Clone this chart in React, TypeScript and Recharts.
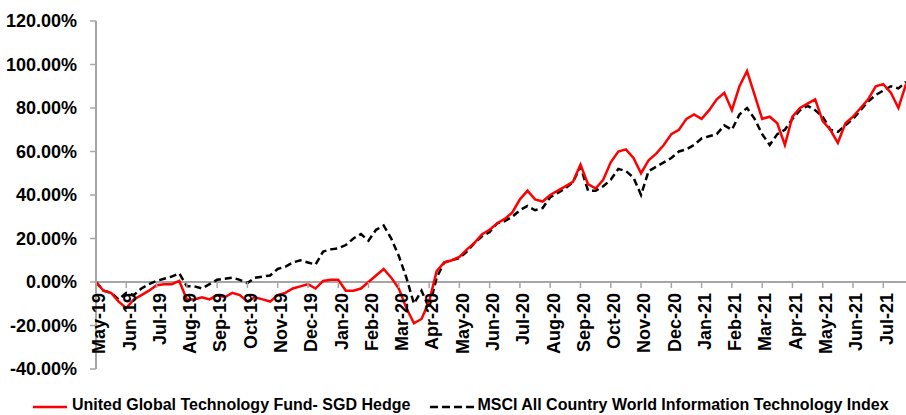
import React from 'react';
import { LineChart, Line, XAxis, YAxis, ReferenceLine, Legend } from 'recharts';

// month labels on the x axis (one tick per month start)
const MONTHS = [
  'May-19', 'Jun-19', 'Jul-19', 'Aug-19', 'Sep-19', 'Oct-19', 'Nov-19', 'Dec-19',
  'Jan-20', 'Feb-20', 'Mar-20', 'Apr-20', 'May-20', 'Jun-20', 'Jul-20', 'Aug-20',
  'Sep-20', 'Oct-20', 'Nov-20', 'Dec-20', 'Jan-21', 'Feb-21', 'Mar-21', 'Apr-21',
  'May-21', 'Jun-21', 'Jul-21',
];

const Y_TICKS = [-40, -20, 0, 20, 40, 60, 80, 100, 120];

// weekly cumulative return, % (four readings per month)
const FUND = [
  0, -4, -5, -9, -12, -8, -6, -4, -1.5, -1,
  -1, 0.5, -8, -8, -7, -8, -6, -7, -5, -6,
  -9, -7, -8, -9, -6, -5, -3, -2, -1, -3,
  0.5, 1, 1, -4, -4, -3, 0, 3, 6, 2,
  -3, -12, -19, -17, -9, 5, 9, 10, 11.5, 15,
  18, 22, 24, 27, 29, 32, 38, 42, 38, 37,
  40, 42, 44, 46, 54, 45, 43, 47, 55, 60,
  61, 57, 50, 56, 59, 63, 68, 70, 75, 77,
  75, 79, 84, 87, 79, 90, 97, 86, 75, 76,
  73, 63, 76, 80, 82, 84, 74, 70, 64, 73,
  76, 80, 84, 90, 91, 87, 80, 91,
];

const INDEX = [
  0, -4, -5, -8, -5, -6, -3, -1, 0.5, 1.5,
  2.5, 4, -2, -2, -3, -1, 1, 1.5, 2, 1,
  -0.5, 2, 2.5, 3, 6, 7, 9, 10, 9, 8,
  14, 15, 15.5, 17, 20, 22, 19, 24, 26, 20,
  12, 2, -10, -4, -12, 2, 9, 10, 11, 14,
  18, 21, 23, 27, 28, 30, 33, 35, 33, 34,
  39, 41, 43, 46, 53, 42, 42, 44, 47, 52,
  51, 48, 40, 51, 53, 55, 57, 60, 61, 63,
  66, 67, 68, 72, 70, 77, 80, 75, 68, 63,
  68, 70, 75, 79, 81, 79, 76, 70, 69, 72,
  75, 79, 83, 86, 88, 90, 89, 92,
];

const FUND_NAME = 'United Global Technology Fund- SGD Hedge';
const INDEX_NAME = 'MSCI All Country World Information Technology Index';

const data = FUND.map((v, i) => ({ t: i / 4, fund: v, index: INDEX[i] }));

const W = 906;
const H = 415;
const TOP = 21;
const Y_MIN = -40;
const Y_MAX = 120;
const X_AXIS_H = 22;
const LEGEND_H = 24;
const PLOT_H = H - TOP - X_AXIS_H - LEGEND_H;
const ZERO_Y = TOP + ((Y_MAX - 0) / (Y_MAX - Y_MIN)) * PLOT_H;

const AXIS = '#a6a6a6';
const FONT = '"Liberation Sans", Arial, sans-serif';

// month labels hang from the zero line, not from the plot bottom
const MonthTick = ({ x, payload }: any) => (
  <g>
    <line x1={x} x2={x} y1={ZERO_Y} y2={ZERO_Y + 6} stroke={AXIS} strokeWidth={1.5} />
    <text
      transform={`translate(${x + 3}, ${ZERO_Y + 11}) rotate(-90)`}
      textAnchor="end"
      dy="0.35em"
      fontSize={18}
      fontWeight="bold"
      fontFamily={FONT}
      fill="#000"
    >
      {MONTHS[payload.value]}
    </text>
  </g>
);

const LegendBox = () => (
  <div
    style={{
      display: 'flex',
      alignItems: 'center',
      height: LEGEND_H - 4,
      paddingTop: 4,
      paddingLeft: 33,
      fontFamily: FONT,
      fontWeight: 'bold',
      fontSize: 16,
      color: '#000',
      whiteSpace: 'nowrap',
    }}
  >
    <svg width={34} height={10} style={{ marginRight: 5 }}>
      <line x1={0} x2={34} y1={7} y2={7} stroke="#ff0000" strokeWidth={2.5} />
    </svg>
    <span>{FUND_NAME}</span>
    <svg width={45} height={10} style={{ marginLeft: 20, marginRight: 2 }}>
      <line x1={0} x2={45} y1={7} y2={7} stroke="#000" strokeWidth={2.5} strokeDasharray="8 4" />
    </svg>
    <span>{INDEX_NAME}</span>
  </div>
);

export default function App() {
  return (
    <div style={{ position: 'absolute', left: 0, top: 0, background: '#fff' }}>
      <LineChart width={W} height={H} data={data} margin={{ top: TOP, right: 0, bottom: 0, left: 0 }}>
        <XAxis
          dataKey="t"
          type="number"
          domain={[0, 26.75]}
          ticks={MONTHS.map((_, i) => i)}
          interval={0}
          height={X_AXIS_H}
          axisLine={false}
          tickLine={false}
          tick={<MonthTick />}
          allowDataOverflow
        />
        <YAxis
          width={96}
          domain={[Y_MIN, Y_MAX]}
          ticks={Y_TICKS}
          interval={0}
          tickFormatter={(v: number) => `${v.toFixed(2)}%`}
          axisLine={{ stroke: AXIS, strokeWidth: 2 }}
          tickLine={{ stroke: AXIS, strokeWidth: 1.5 }}
          tickSize={6}
          tickMargin={13}
          tick={{ fontSize: 18, fontWeight: 'bold', fontFamily: FONT, fill: '#000' }}
        />
        <ReferenceLine y={0} stroke={AXIS} strokeWidth={2} />
        <Line
          dataKey="index"
          name={INDEX_NAME}
          stroke="#000"
          strokeWidth={2.5}
          strokeDasharray="7 4"
          dot={false}
          type="linear"
          isAnimationActive={false}
        />
        <Line
          dataKey="fund"
          name={FUND_NAME}
          stroke="#ff0000"
          strokeWidth={2.5}
          dot={false}
          type="linear"
          isAnimationActive={false}
        />
        <Legend verticalAlign="bottom" height={LEGEND_H} content={<LegendBox />} />
      </LineChart>
    </div>
  );
}
